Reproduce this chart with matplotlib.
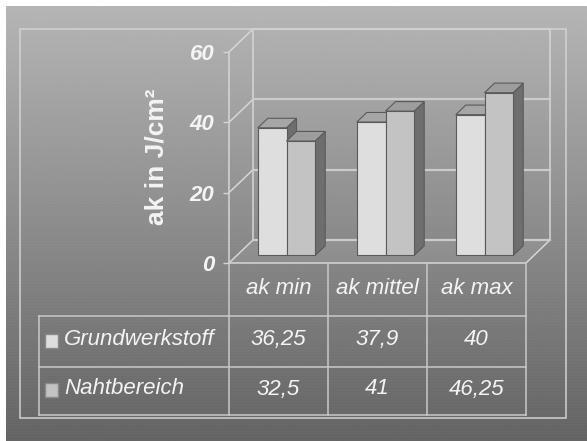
import numpy as np
import matplotlib.pyplot as plt
from matplotlib.patches import Polygon, Rectangle

# values (J/cm²) per category
categories = ['ak min', 'ak mittel', 'ak max']
series_names = ['Grundwerkstoff', 'Nahtbereich']
grundwerkstoff = [36.25, 37.9, 40]
nahtbereich = [32.5, 41, 46.25]
yticks = [0, 20, 40, 60]

W, H = 587, 441
fig = plt.figure(figsize=(W / 100, H / 100), dpi=100)
fig.patch.set_facecolor('white')

# full-figure canvas in pixel units (y down)
bg = fig.add_axes([0, 0, 1, 1])
bg.set_xlim(0, W)
bg.set_ylim(H, 0)
bg.axis('off')

# grey vertical gradient with faint horizontal streaks
rows = np.linspace(0, 1, H)
shade = 0.71 - 0.31 * rows
streak = np.where(np.arange(H) % 3 == 0, -0.015, 0.0) * rows
img = np.clip(shade + streak, 0, 1)[:, None] * np.ones((1, 4))
bg.imshow(img, cmap='gray', vmin=0, vmax=1, extent=(6, W, H, 6),
          aspect='auto', interpolation='bilinear', zorder=0)

# value axis for the front plane of the 3D box
x0, x1, ytop, ybot = 229, 526, 52, 263
ax = fig.add_axes([x0 / W, 1 - ybot / H, (x1 - x0) / W, (ybot - ytop) / H])
ax.set_xlim(0, len(categories))
ax.set_ylim(0, 60)
ax.patch.set_visible(False)
for s in ax.spines.values():
    s.set_visible(False)
ax.set_xticks([])
ax.set_yticks(yticks)
ax.tick_params(axis='y', length=4.5, width=1, color='#d4d4d4', pad=6,
               labelsize=16, labelcolor='#f4f4f4')
for t in ax.get_yticklabels():
    t.set_fontfamily('Liberation Sans')
    t.set_fontweight('bold')
    t.set_fontstyle('italic')

DX, DY = 24, 23  # oblique depth of the box in pixels


def px(x, v, d=0.0):
    """data point at depth d (0 = front, 1 = back) -> canvas pixels"""
    dx, dy = ax.transData.transform((x, v))
    return (dx + d * DX, H - dy - d * DY)


line_kw = dict(color='#d6d6d6', lw=1.1, zorder=2)
grid_kw = dict(color='#cbcbcb', lw=1.6, zorder=2)

# floor
floor = [px(0, 0, 0), px(3, 0, 0), px(3, 0, 1), px(0, 0, 1)]
bg.add_patch(Polygon(floor, closed=True, facecolor='white', alpha=0.07,
                     edgecolor='none', zorder=1))
bg.plot(*zip(px(0, 0, 0), px(3, 0, 0)), **line_kw)
bg.plot(*zip(px(3, 0, 0), px(3, 0, 1)), **line_kw)

# left wall and back wall grid
bg.plot(*zip(px(0, 0, 0), px(0, 60, 0)), **line_kw)
bg.plot(*zip(px(0, 0, 1), px(0, 60, 1)), **line_kw)
bg.plot(*zip(px(3, 0, 1), px(3, 60, 1)), **line_kw)
for t in yticks:
    bg.plot(*zip(px(0, t, 0), px(0, t, 1)), **line_kw)
    bg.plot(*zip(px(0, t, 1), px(3, t, 1)), **grid_kw)

# bars
face_cols = ['#dedede', '#c3c3c3']
top_cols = ['#a6a6a6', '#9d9d9d']
side_col = '#6e6e6e'
edge = '#5a5a5a'
bw = 0.29
f, b = 8 / DX, 18 / DX
for i, cat in enumerate(categories):
    for j, vals in enumerate([grundwerkstoff, nahtbereich]):
        v = vals[i]
        xl = i + 0.5 - bw + j * bw
        xr = xl + bw
        side = [px(xr, 0, f), px(xr, 0, b), px(xr, v, b), px(xr, v, f)]
        top = [px(xl, v, f), px(xr, v, f), px(xr, v, b), px(xl, v, b)]
        front = [px(xl, 0, f), px(xr, 0, f), px(xr, v, f), px(xl, v, f)]
        for poly, col in [(side, side_col), (top, top_cols[j]), (front, face_cols[j])]:
            bg.add_patch(Polygon(poly, closed=True, facecolor=col,
                                 edgecolor=edge, lw=0.8, zorder=3))

txt_kw = dict(color='#f4f4f4', fontsize=16, fontstyle='italic',
              family='Liberation Sans', ha='center', va='center', zorder=5)

# y axis title
bg.text(157, 157, 'ak in J/cm²', rotation=90, color='#f4f4f4', fontsize=19,
        fontweight='bold', family='Liberation Sans', ha='center', va='center',
        zorder=5)

# data table under the chart
tab_left, row_y = 39, [316, 367, 415]
tab_kw = dict(color='#c9c9c9', lw=1.1, zorder=2)
for k in range(len(categories) + 1):
    xk = px(k, 0)[0]
    bg.plot([xk, xk], [ybot, row_y[-1]], **tab_kw)
for yk in row_y:
    bg.plot([tab_left, px(3, 0)[0]], [yk, yk], **tab_kw)
bg.plot([tab_left, tab_left], [row_y[0], row_y[-1]], **tab_kw)

for i, cat in enumerate(categories):
    bg.text(px(i + 0.5, 0)[0], 288, cat, **txt_kw)

for r, (name, vals) in enumerate(zip(series_names, [grundwerkstoff, nahtbereich])):
    yc = (row_y[r] + row_y[r + 1]) / 2 - 2
    bg.add_patch(Rectangle((45, yc - 6), 13, 14, facecolor=face_cols[r],
                           edgecolor='#8a8a8a', lw=1, zorder=4))
    bg.text(64, yc, name, **{**txt_kw, 'ha': 'left'})
    for i, v in enumerate(vals):
        bg.text(px(i + 0.5, 0)[0], yc, f'{v:g}'.replace('.', ','), **txt_kw)

# outer frame
bg.add_patch(Rectangle((20, 29), 546, 389, fill=False, edgecolor='#d2d2d2',
                       lw=1.1, zorder=2))

fig.savefig('out.png', dpi=100)
